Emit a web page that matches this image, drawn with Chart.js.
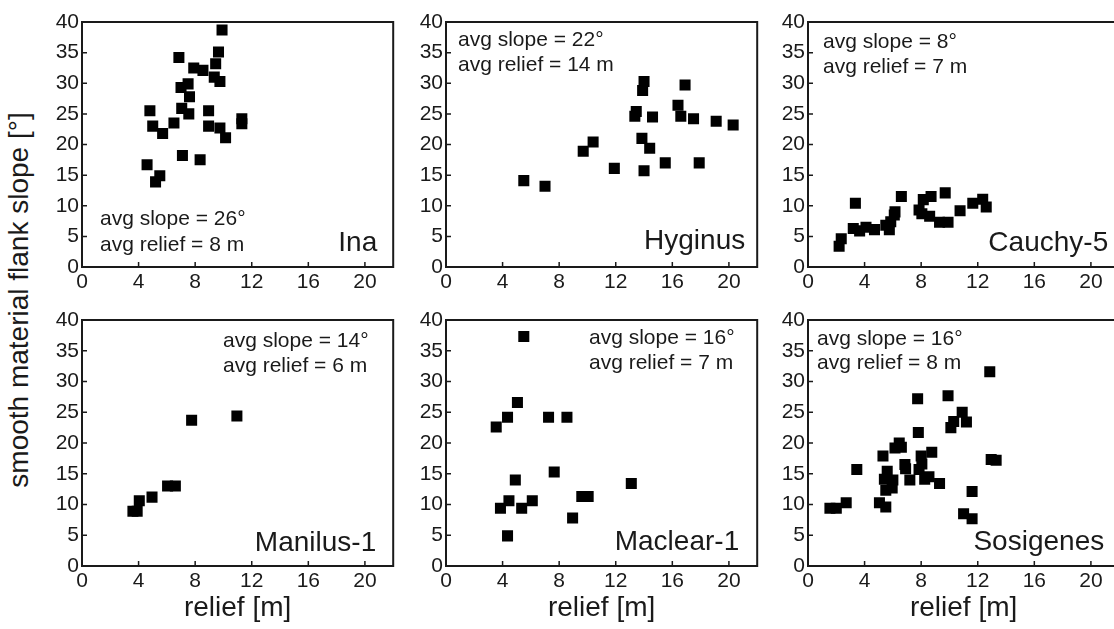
<!DOCTYPE html>
<html lang="en">
<head>
<meta charset="UTF-8">
<title>smooth material flank slope vs relief</title>
<script src="https://cdn.jsdelivr.net/npm/chart.js@4.4.0/dist/chart.umd.min.js"></script>
<style>
  html, body { margin: 0; padding: 0; width: 1114px; height: 629px; overflow: hidden; background: #fff; }
  canvas { position: absolute; }
  #ytitle {
    position: absolute; left: 19px; top: 300px;
    transform: translate(-50%, -50%) rotate(-90deg);
    white-space: nowrap; color: #1a1a1a;
    font: 28px "Liberation Sans", Arial, sans-serif;
  }
</style>
</head>
<body>
<div id="ytitle">smooth material flank slope [°]</div>
<script>
// tick labels
const xTicks = [0, 4, 8, 12, 16, 20];
const yTicks = [0, 5, 10, 15, 20, 25, 30, 35, 40];

// Ina
const inaX = [9.9, 9.65, 6.85, 9.45, 7.9, 8.55, 9.35, 9.75, 7.5, 7.0, 7.6, 4.8, 8.95, 7.05, 7.55, 11.3, 11.3, 6.5, 5.0, 8.95, 9.75, 5.7, 10.15, 7.1, 8.35, 4.6, 5.5, 5.2];
const inaY = [38.7, 35.1, 34.2, 33.2, 32.5, 32.1, 31.0, 30.3, 29.9, 29.3, 27.8, 25.5, 25.5, 25.9, 25.0, 24.2, 23.4, 23.5, 23.0, 23.0, 22.7, 21.8, 21.1, 18.2, 17.5, 16.7, 14.9, 13.9];

// Hyginus
const hygX = [5.5, 7.0, 9.7, 10.4, 11.9, 13.35, 13.45, 14.0, 13.9, 13.85, 14.4, 14.6, 14.0, 15.5, 16.4, 16.6, 16.9, 17.5, 17.9, 19.1, 20.3];
const hygY = [14.1, 13.2, 18.9, 20.4, 16.1, 24.6, 25.4, 30.3, 28.8, 21.0, 19.4, 24.5, 15.7, 17.0, 26.4, 24.6, 29.7, 24.2, 17.0, 23.8, 23.2];

// Cauchy-5
const cauX = [2.2, 2.35, 3.35, 3.2, 3.65, 4.1, 4.7, 5.5, 5.75, 5.85, 6.1, 6.15, 6.6, 7.85, 8.15, 8.7, 8.05, 8.6, 9.7, 9.3, 9.9, 10.75, 11.65, 12.35, 12.6];
const cauY = [3.4, 4.6, 10.4, 6.3, 5.9, 6.5, 6.1, 6.8, 6.1, 7.4, 8.5, 9.0, 11.5, 9.3, 11.0, 11.5, 8.7, 8.3, 12.1, 7.3, 7.3, 9.2, 10.4, 11.05, 9.8];

// Manilus-1
const manX = [3.6, 3.9, 4.05, 4.95, 6.05, 6.6, 7.75, 10.95];
const manY = [8.9, 8.9, 10.6, 11.2, 13.0, 13.0, 23.7, 24.4];

// Maclear-1
const macX = [5.5, 5.05, 4.35, 3.55, 7.25, 8.55, 7.65, 4.9, 13.1, 4.45, 3.85, 5.35, 6.1, 9.6, 10.05, 8.95, 4.35];
const macY = [37.3, 26.6, 24.2, 22.6, 24.2, 24.2, 15.3, 14.0, 13.4, 10.6, 9.4, 9.4, 10.6, 11.3, 11.3, 7.8, 4.9];

// Sosigenes
const sosX = [12.85, 9.9, 7.75, 10.9, 11.2, 10.3, 10.1, 7.8, 6.45, 6.15, 6.6, 5.3, 8.75, 8.0, 8.05, 6.85, 6.9, 3.45, 5.6, 7.85, 5.4, 6.0, 7.2, 8.25, 8.55, 9.3, 5.5, 5.95, 11.6, 5.05, 5.5, 2.7, 2.0, 1.55, 11.0, 11.6, 12.95, 13.3];
const sosY = [31.6, 27.7, 27.2, 25.0, 23.4, 23.5, 22.5, 21.7, 20.0, 19.2, 19.3, 17.9, 18.5, 17.9, 16.6, 16.5, 15.8, 15.7, 15.4, 15.7, 14.1, 14.0, 14.0, 14.1, 14.5, 13.4, 12.3, 12.7, 12.1, 10.3, 9.6, 10.3, 9.4, 9.4, 8.5, 7.7, 17.3, 17.2];

const FONT = '"Liberation Sans", Arial, sans-serif';
const INK = '#1a1a1a';

// layout of the plot boxes (px)
const colLeft = [82, 446, 808];
const rowTop = [22, 320];
const plotH = [245, 246];
const PLOT_W = 315;
const AXIS_W = 60;
const PAD_T = 16;
const PAD_R = 4;
const xAxisH = [40, 59];

// avg: [dx, baseline1, baseline2], name: [right margin, baseline] (from plot top-left / top-right)
const panels = [
  { name: 'Ina', xs: inaX, ys: inaY, avg: ['avg slope = 26°', 'avg relief = 8 m'], avgPos: [18, 203, 229], namePos: [16, 229] },
  { name: 'Hyginus', xs: hygX, ys: hygY, avg: ['avg slope = 22°', 'avg relief = 14 m'], avgPos: [12, 24, 49], namePos: [12, 227] },
  { name: 'Cauchy-5', xs: cauX, ys: cauY, avg: ['avg slope = 8°', 'avg relief = 7 m'], avgPos: [15, 26, 51], namePos: [11, 229] },
  { name: 'Manilus-1', xs: manX, ys: manY, avg: ['avg slope = 14°', 'avg relief = 6 m'], avgPos: [141, 27, 52], namePos: [17, 231] },
  { name: 'Maclear-1', xs: macX, ys: macY, avg: ['avg slope = 16°', 'avg relief = 7 m'], avgPos: [143, 24, 49], namePos: [18, 230] },
  { name: 'Sosigenes', xs: sosX, ys: sosY, avg: ['avg slope = 16°', 'avg relief = 8 m'], avgPos: [9, 25, 49], namePos: [15, 230] }
];

const framePlugin = {
  id: 'frame',
  afterDraw(chart, args, opts) {
    const ctx = chart.ctx;
    const a = chart.chartArea;
    const sx = chart.scales.x, sy = chart.scales.y;
    ctx.save();
    ctx.strokeStyle = INK;
    ctx.lineWidth = 2;
    ctx.strokeRect(a.left, a.top, a.right - a.left, a.bottom - a.top);
    // inward tick marks
    ctx.lineWidth = 1.5;
    ctx.beginPath();
    xTicks.forEach(v => {
      if (v > 0) {
        const px = sx.getPixelForValue(v);
        ctx.moveTo(px, a.bottom);
        ctx.lineTo(px, a.bottom - 5);
      }
    });
    yTicks.forEach(v => {
      if (v > 0 && v < 40) {
        const py = sy.getPixelForValue(v);
        ctx.moveTo(a.left, py);
        ctx.lineTo(a.left + 5, py);
      }
    });
    ctx.stroke();

    ctx.fillStyle = INK;
    ctx.textBaseline = 'alphabetic';
    ctx.font = '21px ' + FONT;
    ctx.textAlign = 'left';
    ctx.fillText(opts.avg[0], a.left + opts.avgPos[0], a.top + opts.avgPos[1]);
    ctx.fillText(opts.avg[1], a.left + opts.avgPos[0], a.top + opts.avgPos[2]);
    ctx.font = '28px ' + FONT;
    ctx.textAlign = 'right';
    ctx.fillText(opts.name, a.right - opts.namePos[0], a.top + opts.namePos[1]);
    ctx.restore();
  }
};

panels.forEach((p, i) => {
  const col = i % 3, row = Math.floor(i / 3);
  const cv = document.createElement('canvas');
  const W = AXIS_W + PLOT_W + PAD_R;
  const H = PAD_T + plotH[row] + xAxisH[row];
  cv.width = W;
  cv.height = H;
  cv.style.width = W + 'px';
  cv.style.height = H + 'px';
  cv.style.left = (colLeft[col] - AXIS_W) + 'px';
  cv.style.top = (rowTop[row] - PAD_T) + 'px';
  document.body.appendChild(cv);

  const pts = p.xs.map((x, k) => ({ x: x, y: p.ys[k] }));

  new Chart(cv, {
    type: 'scatter',
    data: {
      datasets: [{
        label: p.name,
        data: pts,
        pointStyle: 'rect',
        pointRadius: 7.8,
        pointHoverRadius: 7.8,
        backgroundColor: '#000',
        borderWidth: 0
      }]
    },
    options: {
      responsive: false,
      animation: false,
      devicePixelRatio: 1,
      layout: { padding: { top: PAD_T, right: PAD_R, left: 0, bottom: 0 } },
      plugins: {
        legend: { display: false },
        tooltip: { enabled: false },
        frame: { name: p.name, avg: p.avg, avgPos: p.avgPos, namePos: p.namePos }
      },
      scales: {
        x: {
          type: 'linear', min: 0, max: 22,
          afterBuildTicks: s => { s.ticks = xTicks.map(v => ({ value: v })); },
          afterFit: s => { s.height = xAxisH[row]; },
          grid: { display: false, drawTicks: false },
          border: { display: false },
          ticks: { color: INK, font: { family: FONT, size: 21 }, padding: 3, maxRotation: 0, autoSkip: false },
          title: row === 1
            ? { display: true, text: 'relief [m]', color: INK, font: { family: FONT, size: 28 }, padding: 0 }
            : { display: false }
        },
        y: {
          type: 'linear', min: 0, max: 40,
          afterBuildTicks: s => { s.ticks = yTicks.map(v => ({ value: v })); },
          afterFit: s => { s.width = AXIS_W; },
          grid: { display: false, drawTicks: false },
          border: { display: false },
          ticks: { color: INK, font: { family: FONT, size: 21 }, padding: 3, autoSkip: false }
        }
      }
    },
    plugins: [framePlugin]
  });
});
</script>
</body>
</html>
